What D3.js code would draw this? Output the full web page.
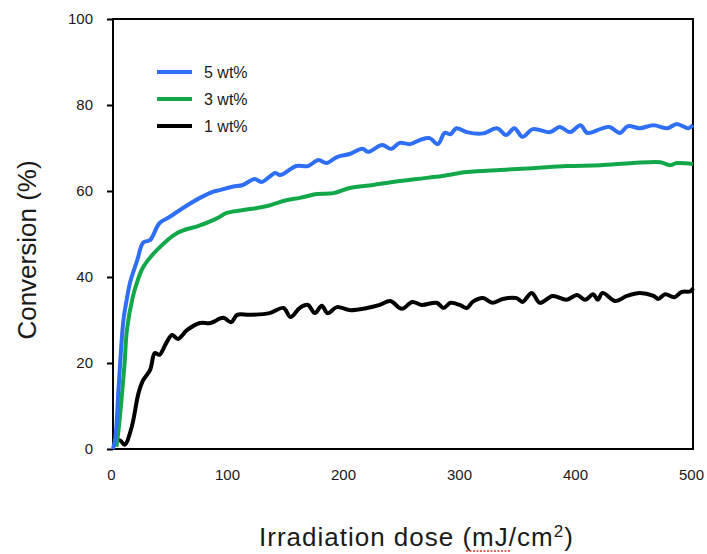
<!DOCTYPE html>
<html>
<head>
<meta charset="utf-8">
<script src="https://cdn.jsdelivr.net/npm/d3@7"></script>
<style>
  body { margin: 0; background: #fff; }
  text { font-family: "Liberation Sans", Arial, sans-serif; fill: #1a1a1a; }
</style>
</head>
<body>
<div id="chart"></div>
<script>
// doses (mJ/cm2) and conversion (%)
var blueDose = [0, 2, 5, 9, 12, 15, 21, 26, 32, 40, 49, 60, 75, 86, 92, 103, 112, 122, 128, 140, 144, 158, 168, 177, 184, 193, 204, 215, 220, 232, 240, 247, 256, 265, 273, 280, 286, 291, 296, 305, 319, 331, 339, 346, 353, 362, 377, 385, 394, 403, 409, 420, 428, 437, 444, 454, 466, 478, 486, 496, 500];
var blueConv = [0, 2.5, 15, 30, 35, 39, 44, 48, 48.6, 52.5, 54, 56, 58.4, 59.8, 60.2, 61, 61.4, 62.8, 62.1, 64.2, 63.7, 65.8, 65.8, 67.2, 66.5, 67.9, 68.6, 69.8, 69.1, 70.7, 69.8, 71.2, 70.9, 71.9, 72.3, 70.9, 73.5, 73.2, 74.6, 73.7, 73.4, 74.6, 73, 74.6, 72.6, 74.4, 73.7, 74.9, 73.7, 75.3, 73.5, 74.4, 74.9, 73.5, 75.1, 74.6, 75.3, 74.6, 75.6, 74.6, 75.3];

var greenDose = [3, 5, 7.5, 10, 12, 17, 21, 26, 38, 55, 75, 90, 98, 118, 133, 150, 161, 176, 190, 204, 224, 241, 262, 284, 305, 334, 362, 391, 420, 448, 472, 480, 486, 500];
var greenConv = [0.5, 5, 12, 20, 27.7, 35.3, 39, 42.3, 46.3, 50.2, 52, 53.7, 54.9, 55.8, 56.5, 57.9, 58.4, 59.3, 59.5, 60.7, 61.4, 62.1, 62.8, 63.5, 64.4, 64.9, 65.3, 65.8, 66, 66.5, 66.7, 66, 66.5, 66.3];

var blackDose = [2, 6, 10, 16, 22, 26, 32, 36, 40, 46, 51, 56, 64, 75, 84, 95, 102, 107, 118, 135, 147, 153, 161, 168, 174, 180, 185, 193, 204, 219, 230, 239, 249, 258, 266, 279, 285, 291, 299, 305, 310, 319, 327, 336, 348, 353, 361, 368, 379, 391, 400, 407, 414, 418, 422, 433, 443, 454, 466, 470, 476, 484, 490, 498, 500];
var blackConv = [1.6, 2, 1, 5, 13, 16, 18.4, 22.3, 21.9, 24.7, 26.5, 25.6, 27.7, 29.3, 29.3, 30.5, 29.5, 31.2, 31.2, 31.6, 32.8, 30.7, 32.8, 33.5, 31.6, 33.3, 31.6, 33, 32.3, 32.8, 33.5, 34.4, 32.6, 34.2, 33.5, 34, 32.8, 34, 33.5, 32.8, 34.2, 35.1, 34, 34.9, 35.1, 34.2, 36.3, 34, 35.6, 34.7, 35.8, 34.7, 36, 34.7, 36.3, 34.4, 35.6, 36.3, 35.6, 34.9, 36, 35.3, 36.5, 36.7, 37.4];

var seriesNames = ['5 wt%', '3 wt%', '1 wt%'];
var seriesColors = ['#2f6ff6', '#12a84a', '#000000'];
var xTicks = [0, 100, 200, 300, 400, 500];
var yTicks = [0, 20, 40, 60, 80, 100];

var series = [
  { name: seriesNames[0], color: seriesColors[0], dose: blueDose, conv: blueConv },
  { name: seriesNames[1], color: seriesColors[1], dose: greenDose, conv: greenConv },
  { name: seriesNames[2], color: seriesColors[2], dose: blackDose, conv: blackConv }
];

var svgWidth = 707;
var svgHeight = 554;
var margin = { left: 113, top: 19, right: 14, bottom: 105 };
var width = svgWidth - margin.left - margin.right;
var height = svgHeight - margin.top - margin.bottom;

var svg = d3.select('#chart')
  .append('svg')
  .attr('width', svgWidth)
  .attr('height', svgHeight);

var g = svg.append('g')
  .attr('transform', 'translate(' + margin.left + ',' + margin.top + ')');

var x = d3.scaleLinear().domain([0, 500]).range([0, width]);
var y = d3.scaleLinear().domain([0, 100]).range([height, 0]);

// y axis, ticks pointing out
var yAxis = g.append('g')
  .call(d3.axisLeft(y).tickValues(yTicks).tickSize(6).tickPadding(14).tickSizeOuter(0));
yAxis.select('.domain').remove();
yAxis.selectAll('line').attr('stroke', '#000').attr('stroke-width', 2);
yAxis.selectAll('text').style('font-size', '15px');

var xAxis = g.append('g')
  .attr('transform', 'translate(0,' + height + ')')
  .call(d3.axisBottom(x).tickValues(xTicks).tickSize(0).tickPadding(20));
xAxis.select('.domain').remove();
xAxis.selectAll('text').style('font-size', '15px').attr('dx', '-2');

// frame
g.append('rect')
  .attr('x', 0).attr('y', 0)
  .attr('width', width).attr('height', height)
  .attr('fill', 'none')
  .attr('stroke', '#000')
  .attr('stroke-width', 2);

var line = d3.line()
  .x(function(d) { return x(d[0]); })
  .y(function(d) { return y(d[1]); })
  .curve(d3.curveCatmullRom);

// draw black first so blue ends up on top
series.slice().reverse().forEach(function(s) {
  g.append('path')
    .datum(d3.zip(s.dose, s.conv))
    .attr('d', line)
    .attr('fill', 'none')
    .attr('stroke', s.color)
    .attr('stroke-width', 4)
    .attr('stroke-linejoin', 'round');
});

// legend
var legend = g.selectAll('.legend')
  .data(series)
  .enter()
  .append('g')
  .attr('class', 'legend')
  .attr('transform', function(d, i) {
    return 'translate(44,' + (53 + i * 27) + ')';
  });

legend.append('line')
  .attr('x1', 0).attr('x2', 35)
  .attr('stroke', function(d) { return d.color; })
  .attr('stroke-width', 4);

legend.append('text')
  .attr('x', 47)
  .attr('dy', '0.35em')
  .style('font-size', '16px')
  .text(function(d) { return d.name; });

// axis titles
svg.append('text')
  .attr('transform', 'translate(36,' + (margin.top + height / 2 + 16) + ') rotate(-90)')
  .attr('text-anchor', 'middle')
  .style('font-size', '26px')
  .text('Conversion (%)');

var xt = svg.append('text')
  .attr('x', 259)
  .attr('y', 546)
  .style('font-size', '26px')
  .style('letter-spacing', '1px');
xt.append('tspan').text('Irradiation dose (mJ/cm');
xt.append('tspan').attr('dy', -9).style('font-size', '17px').text('2');
xt.append('tspan').attr('dy', 9).text(')');

// spell-check squiggle under "mJ/cm"
svg.append('line')
  .attr('x1', 466).attr('x2', 510)
  .attr('y1', 551).attr('y2', 551)
  .attr('stroke', '#e23030')
  .attr('stroke-width', 1.5)
  .attr('stroke-dasharray', '2,1.5');
</script>
</body>
</html>
